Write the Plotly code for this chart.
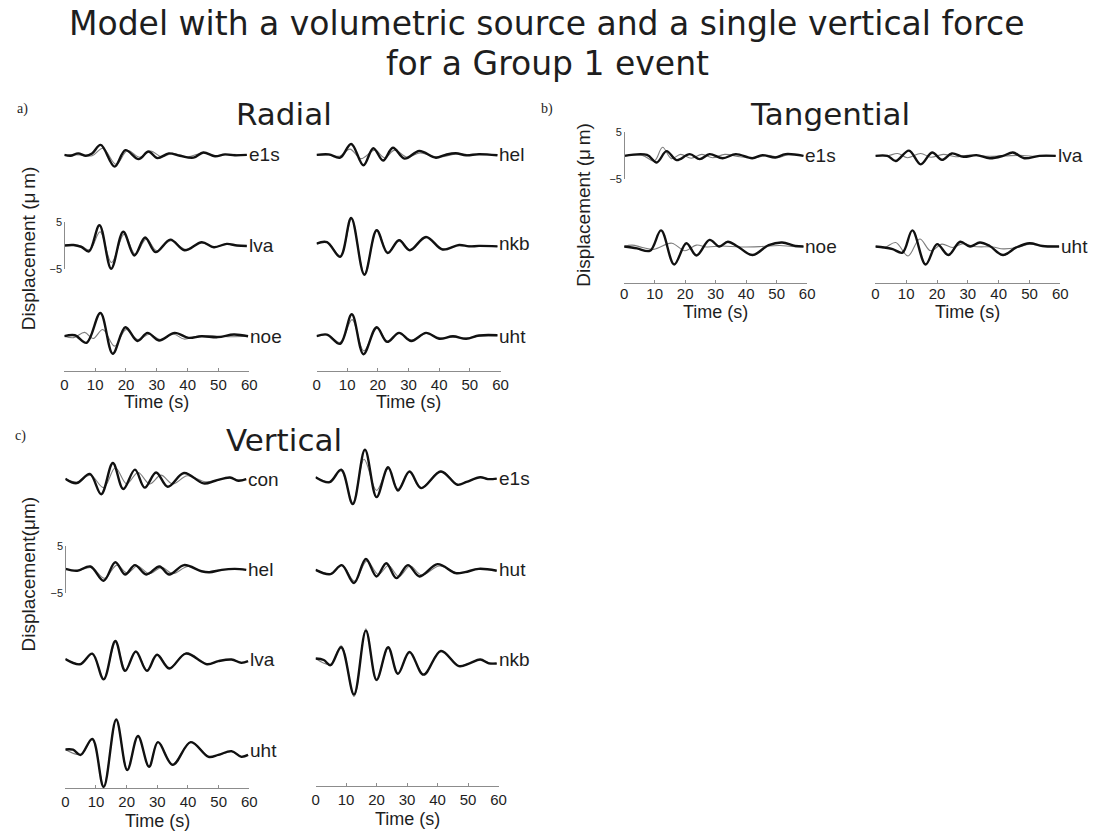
import plotly.graph_objects as go

# ---------------------------------------------------------------------------
# Waveforms: (time in s, displacement in micrometres) at the turning points of
# each record.  "obs" = observed record (thick black), "syn" = model (thin grey)
# ---------------------------------------------------------------------------

# Radial component
radial_e1s_obs = [(0, 0), (2, -0.2), (4.5, 0.3), (7, -0.2), (9, 0.3), (11.8, 2.1), (16.3, -2.5),
                  (19.8, 1.0), (24.1, -0.9), (27.3, 0.7), (30.2, -0.7), (33.9, 0.3), (37.5, -0.2),
                  (41.9, -0.6), (45.1, 0.5), (48.9, -0.3), (52.1, 0.1), (55.3, -0.1), (59.2, 0)]
radial_e1s_syn = [(0, 0), (5, 0), (9, -0.2), (12.5, 1.4), (16.8, -2.0), (20.5, 0.9), (24.5, -0.5),
                  (28, 0.8), (31.5, -0.4), (35, 0.3), (40, -0.4), (45, 0.4), (49, -0.2), (53, 0.1),
                  (59.2, 0)]
radial_lva_obs = [(0, 0), (3, 0.1), (5.5, -0.3), (8, -1.25), (11.4, 4.3), (15.2, -4.9), (19.1, 2.9),
                  (22.7, -2.1), (26.2, 1.7), (29.6, -1.4), (34.4, 1.25), (39, -1.0), (44.6, 0.7),
                  (48.5, -0.35), (52.7, 0.35), (56, 0), (59.2, -0.1)]
radial_lva_syn = [(0, 0), (5, 0), (8.3, -0.9), (11.6, 2.9), (15.3, -3.6), (19.4, 2.4), (23, -1.8),
                  (26.6, 1.4), (30, -1.1), (34.6, 1.0), (39.3, -0.8), (44.6, 0.6), (48.5, -0.3),
                  (52.7, 0.3), (56, 0), (59.2, -0.1)]
radial_noe_obs = [(0, 0), (3.4, 0.2), (7.2, -1.4), (11.7, 4.9), (15.7, -3.7), (19.8, 1.9), (23.7, -1.0),
                  (27, 0.7), (30.7, -0.9), (35.8, 0.7), (40.3, -0.35), (44.5, 0), (49.8, -0.2),
                  (55, 0.35), (59.6, 0)]
radial_noe_syn = [(0, 0), (3, -0.3), (6.6, 0.8), (9.3, -0.5), (12.5, 1.4), (16.3, -2.1), (20, 1.4),
                  (23.8, -0.7), (27.5, 0.4), (31.3, -0.7), (35.5, 0.4), (38.8, -0.6), (43, 0),
                  (48, 0.1), (53, -0.1), (59.6, 0)]
radial_hel_obs = [(0, 0), (4, 0.1), (7.7, -0.6), (11.3, 2.3), (15.3, -2.2), (18.5, 1.4), (21.7, -1.2),
                  (24.9, 1.5), (28.7, -0.8), (33.5, 0.8), (38.9, -0.6), (42, 0), (45.4, 0.35),
                  (48.8, -0.1), (53, 0.15), (59, -0.1)]
radial_hel_syn = [(0, 0), (4, 0), (7.5, -0.3), (10.9, 1.2), (14.5, -0.8), (19, 1.0), (22.2, -0.6),
                  (25.5, 1.0), (29.5, -0.5), (33.8, 0.4), (38, -0.3), (41, -0.4), (45.5, 0.2),
                  (50, 0), (59, 0)]
radial_nkb_obs = [(0, 0), (3.4, 0.3), (7.7, -2.8), (11.3, 5.4), (15.6, -6.6), (19.6, 2.8), (23.2, -2.0),
                  (26.9, 0.7), (30.4, -1.4), (35.7, 1.4), (41.1, -1.25), (46.5, -0.3), (49.7, -0.6),
                  (53, -0.5), (59, -0.6)]
radial_nkb_syn = [(0, 0), (3.4, 0.3), (7.8, -2.6), (11.4, 5.2), (15.6, -6.4), (19.7, 2.9), (23.2, -1.9),
                  (27, 0.8), (30.5, -1.3), (35.8, 1.3), (41.2, -1.2), (46.5, -0.3), (49.7, -0.5),
                  (53, -0.5), (59, -0.6)]
radial_uht_obs = [(0, 0), (3.4, 0.35), (7.7, -1.6), (11.5, 4.65), (15.3, -3.8), (19.6, 1.9), (23, -1.2),
                  (26.9, 0.7), (30.9, -1.0), (35.7, 0.7), (40, -0.55), (44.5, 0), (48.8, -0.55),
                  (53, 0.15), (59, 0.2)]
radial_uht_syn = [(0, 0), (3.4, 0.3), (7.7, -1.3), (11.6, 3.5), (15.4, -3.1), (19.7, 1.7), (23.1, -1.0),
                  (27, 0.6), (31, -0.8), (35.8, 0.6), (40, -0.3), (44.5, -0.2), (48.8, -0.4),
                  (53, 0), (59, 0.1)]

# Tangential component
tangential_e1s_obs = [(0, 0), (7.5, 0.2), (10.7, -1.4), (13.9, 1.0), (17.2, -0.9), (21.5, 0.35),
                      (24.8, -0.7), (28, 0.35), (32.3, -0.5), (36.6, 0.35), (42, -0.5), (45.3, 0.15),
                      (49.6, -0.35), (52.9, 0.35), (58.8, 0)]
tangential_e1s_syn = [(0, 0), (6, 0.1), (9.9, -1.1), (12.6, 1.8), (15.5, -0.6), (18.5, 0.3), (22, -0.5),
                      (25.5, 0.3), (29, -0.4), (33, 0.3), (38, -0.2), (43, -0.4), (47, 0.1),
                      (51, -0.3), (54, 0.3), (58.8, 0)]
tangential_noe_obs = [(0, 0), (4.2, -0.4), (8.5, -0.9), (12.1, 3.4), (16.4, -3.8), (20.4, 0.7),
                      (23.7, -1.9), (28, 1.4), (31.2, 0), (34, 1.0), (37.2, 0), (42.1, -1.8),
                      (47.4, 0.3), (51.8, 0.85), (56.1, 0.1), (58.8, 0)]
tangential_noe_syn = [(0, 0), (2.6, 0.3), (6, -0.2), (9.7, -0.6), (15.6, 0.7), (19.9, -0.9),
                      (23.7, 0.3), (27, -0.1), (32, 0.1), (38, -0.1), (45, 0), (51, 0.2), (55, 0),
                      (58.8, 0)]
tangential_lva_obs = [(0, 0), (3.9, 0), (6.6, -1.1), (10.9, 1.1), (14.7, -1.8), (18.4, 0.7),
                      (21.6, -0.85), (24.8, 0.5), (28.6, -0.2), (32.8, 0.15), (37.1, -0.5), (41.4, 0),
                      (44.6, 0.7), (48.3, -0.5), (53.2, 0), (58.5, 0)]
tangential_lva_syn = [(0, 0), (4, 0), (7.2, 0.5), (10.4, -0.4), (14.7, 0.5), (18, -0.3), (22, 0.3),
                      (26, -0.2), (30, 0.1), (36, -0.1), (42, 0), (47, 0.1), (51, -0.1), (58.5, 0)]
tangential_uht_obs = [(0, 0), (2.9, -0.2), (5.6, -0.55), (8.8, -1.3), (12, 3.4), (16.3, -3.8),
                      (20, 0.5), (23.7, -1.8), (27.5, 1.0), (30.7, 0), (33.9, 0.85), (37.1, 0.1),
                      (41.4, -1.8), (45.7, -0.2), (50, 0.7), (54.2, 0.1), (59.6, 0)]
tangential_uht_syn = [(0, 0), (3, -0.2), (6.6, 0.85), (10.6, -2.0), (14.4, 1.6), (17.9, -0.9),
                      (21.6, 0.5), (25, -0.2), (28.5, 0.6), (32, 0), (38, -0.1), (41.5, -0.5),
                      (46, -0.2), (50, 0.5), (54, 0.2), (59.6, 0)]

# Vertical component
vertical_con_obs = [(0, 0.1), (3.7, -0.85), (8, 1.1), (11.7, -3.2), (15.5, 3.4), (18.9, -2.1),
                    (22.7, 2.0), (25.9, -1.8), (29.6, 1.4), (33.4, -1.6), (38.7, 1.3), (45.1, -0.9),
                    (48.9, -0.35), (53.7, 0.35), (56.4, -0.35), (59, 0)]
vertical_con_syn = [(0, 0.1), (3.9, -0.6), (8.2, 0.85), (12.5, -1.8), (16.3, 2.4), (20, -1.0),
                    (23.7, 1.4), (27.5, -1.0), (31.2, 0.85), (35, -1.0), (39.8, 0.7), (45.6, -0.55),
                    (49, -0.3), (53.7, 0.3), (56.4, -0.2), (59, 0)]
vertical_hel_obs = [(0, 0.2), (3.9, -0.2), (8.2, 0.7), (12.5, -2.3), (16.3, 1.6), (19.5, -1.0),
                    (22.7, 1.0), (26.4, -1.0), (30.7, 0.7), (33.9, -1.0), (38.7, 1.0), (44.4, -0.3),
                    (47, -0.5), (51, 0), (55.3, 0.2), (59, 0)]
vertical_hel_syn = [(0, 0.2), (4, -0.2), (8.5, 0.5), (12.8, -1.8), (16.8, 1.0), (20.2, -0.7),
                    (23.5, 0.8), (27.3, -0.8), (31.5, 0.5), (35, -0.8), (40, 0.7), (45, -0.4),
                    (51, 0), (55.3, 0.2), (59, 0)]
vertical_lva_obs = [(0, 0.1), (4.8, -1.0), (8.8, 1.25), (12.5, -4.2), (16.3, 3.9), (19.5, -2.4),
                    (23, 1.7), (26.6, -2.4), (29.9, 1.0), (33.9, -1.9), (39.3, 1.25), (46.2, -1.0),
                    (49.9, -0.35), (54.2, 0), (57.4, -0.7), (59.6, -0.35)]
vertical_lva_syn = [(0, 0.1), (4.8, -0.9), (8.8, 1.1), (12.5, -4.0), (16.4, 3.6), (19.6, -2.2),
                    (23, 1.6), (26.7, -2.2), (30, 1.1), (34, -1.7), (39.5, 1.4), (46.4, -0.9),
                    (50, -0.35), (54.2, 0), (57.4, -0.6), (59.6, -0.35)]
vertical_uht_obs = [(0, 0.15), (2.5, 0.1), (5, -1.0), (8.8, 2.4), (12.5, -7.8), (16.6, 6.5),
                    (20.2, -4.2), (23.7, 3.0), (27.3, -3.5), (30.2, 1.7), (35, -3.1), (40.9, 1.7),
                    (46.7, -1.4), (49.9, -1.0), (54.2, -0.2), (57.4, -1.4), (59.6, -1.0)]
vertical_uht_syn = [(0, 0.15), (5, -0.9), (8.8, 2.2), (12.5, -7.5), (16.6, 6.3), (20.2, -4.0),
                    (23.7, 2.9), (27.3, -3.4), (30.2, 1.8), (35, -3.0), (40.9, 1.8), (46.7, -1.3),
                    (50, -1.0), (54.2, -0.3), (57.4, -1.3), (59.6, -1.0)]
vertical_e1s_obs = [(0, 0.2), (4.6, -0.85), (8.4, 1.8), (12.2, -5.5), (16.2, 6.0), (20, -4.0),
                    (23.8, 2.3), (27, -2.6), (30.8, 1.4), (34.6, -2.1), (41.1, 1.4), (46.5, -1.4),
                    (49.5, -0.8), (54, 0.2), (56.5, -0.2), (59.4, -0.1)]
vertical_e1s_syn = [(0, 0.2), (4.6, -0.7), (8.4, 1.5), (12.2, -5.2), (15.9, 4.0), (20, -2.6),
                    (23.8, 2.0), (27, -2.2), (30.8, 1.3), (34.6, -2.0), (41.1, 1.5), (46.5, -1.3),
                    (49.5, -0.8), (54, 0.2), (56.5, -0.2), (59.4, -0.1)]
vertical_hut_obs = [(0, 0), (4.9, -0.9), (8.6, 1.0), (12.6, -2.8), (16.5, 2.3), (20, -1.4),
                    (23.2, 1.4), (26.5, -1.75), (30.3, 1.0), (34.1, -1.4), (40, 1.2), (45.9, -0.7),
                    (49, -0.5), (53.5, 0.2), (59.4, -0.2)]
vertical_hut_syn = [(0, 0), (5, -0.8), (8.8, 0.9), (12.8, -2.4), (16.8, 1.9), (20.6, -1.0),
                    (23.9, 0.9), (27.3, -1.4), (31, 0.8), (34.8, -1.1), (40.6, 0.8), (46.3, -0.6),
                    (49, -0.5), (53.5, 0.2), (59.4, -0.2)]
vertical_nkb_obs = [(0, 0.2), (2.7, -0.1), (4.9, -1.2), (8.4, 2.6), (12.6, -7.4), (16.5, 6.1),
                    (20, -4.3), (23.8, 2.6), (27, -3.0), (30.8, 1.6), (35.4, -3.2), (41.1, 1.8),
                    (47, -1.4), (50.5, -0.8), (54, 0), (56.8, -0.8), (59.4, -0.85)]
vertical_nkb_syn = [(0, 0.2), (4.9, -1.0), (8.4, 2.9), (12.6, -7.8), (16.5, 6.5), (20, -4.5),
                    (23.8, 2.4), (27, -3.1), (30.8, 1.5), (35.4, -3.1), (41.1, 1.8), (47, -1.3),
                    (50.5, -0.8), (54, 0), (56.8, -0.7), (59.4, -0.85)]

time_ticks = [0, 10, 20, 30, 40, 50, 60]
scale_ticks = [-5, 5]
scale_labels = ["\u22125", "5"]

# ---------------------------------------------------------------------------
# Page geometry (pixels on a 1099 x 839 page)
# ---------------------------------------------------------------------------
W, H = 1099, 839
PX_PER_UM = 4.8          # vertical scale of every trace strip
STRIP_HALF = 45          # half height of one trace strip, px

# column: (left px at t=0, right px at t=60, y of time axis line, y of "Time (s)",
#          shift of the tick labels towards the axis line)
columns = {
    "rad_l": (61, 248, 370, 402, 0),
    "rad_r": (316, 502, 370, 402, 0),
    "tan_l": (627, 812, 281, 310, -3),
    "tan_r": (881, 1068, 281, 310, -3),
    "ver_l": (62, 248, 793, 827, 0),
    "ver_r": (315, 500, 791, 825, 0),
}

# (column, station, baseline y px, observed, synthetic, draw amplitude bar)
rows = [
    ("rad_l", "e1s", 151, radial_e1s_obs, radial_e1s_syn, False),
    ("rad_l", "lva", 243, radial_lva_obs, radial_lva_syn, True),
    ("rad_l", "noe", 335, radial_noe_obs, radial_noe_syn, False),
    ("rad_r", "hel", 151, radial_hel_obs, radial_hel_syn, False),
    ("rad_r", "nkb", 241, radial_nkb_obs, radial_nkb_syn, False),
    ("rad_r", "uht", 335, radial_uht_obs, radial_uht_syn, False),
    ("tan_l", "e1s", 152, tangential_e1s_obs, tangential_e1s_syn, True),
    ("tan_l", "noe", 244, tangential_noe_obs, tangential_noe_syn, False),
    ("tan_r", "lva", 152, tangential_lva_obs, tangential_lva_syn, False),
    ("tan_r", "uht", 244, tangential_uht_obs, tangential_uht_syn, False),
    ("ver_l", "con", 480, vertical_con_obs, vertical_con_syn, False),
    ("ver_l", "hel", 572, vertical_hel_obs, vertical_hel_syn, True),
    ("ver_l", "lva", 663, vertical_lva_obs, vertical_lva_syn, False),
    ("ver_l", "uht", 755, vertical_uht_obs, vertical_uht_syn, False),
    ("ver_r", "e1s", 479, vertical_e1s_obs, vertical_e1s_syn, False),
    ("ver_r", "hut", 572, vertical_hut_obs, vertical_hut_syn, False),
    ("ver_r", "nkb", 663, vertical_nkb_obs, vertical_nkb_syn, False),
]

SANS = "Liberation Sans, Arial, sans-serif"
HEAD = "DejaVu Sans, Lucida Grande, sans-serif"
SERIF = "Liberation Serif, serif"
AXIS_GREY = "#8c8c8c"
INK = "#1e1e1e"


def px(x):
    return x / W


def py(y):
    return 1 - y / H


def axis_key(kind, n):
    return kind + "axis" + ("" if n == 1 else str(n))


def axis_ref(kind, n):
    return kind + ("" if n == 1 else str(n))


def paper_text(text, x, y, size, family, angle=0):
    return dict(text=text, x=px(x), y=py(y), xref="paper", yref="paper", showarrow=False,
                xanchor="center", yanchor="middle", textangle=angle,
                font=dict(family=family, size=size, color=INK))


fig = go.Figure()
layout = {}
annotations = []

# one shared time axis per column
col_index = {}
for i, (key, (x0, x1, ay, ty, lab_shift)) in enumerate(columns.items(), start=1):
    col_index[key] = i
    layout[axis_key("x", i)] = dict(
        domain=[px(x0), px(x1)], range=[0, 60], anchor="free", position=py(ay),
        showline=True, linecolor=AXIS_GREY, linewidth=1,
        ticks="inside", ticklen=3, tickcolor=AXIS_GREY, tickwidth=1,
        tickvals=time_ticks, tickfont=dict(family=SANS, size=15, color=INK),
        ticklabelstandoff=lab_shift,
        showgrid=False, zeroline=False, fixedrange=True,
    )
    annotations.append(paper_text("Time (s)", (x0 + x1) / 2, ty, 18, SANS))

yn = 0
for col, station, base, obs, syn, bar in rows:
    xi = col_index[col]
    x0 = columns[col][0]
    yn += 1
    span = STRIP_HALF / PX_PER_UM
    layout[axis_key("y", yn)] = dict(
        domain=[py(base + STRIP_HALF), py(base - STRIP_HALF)], range=[-span, span],
        anchor=axis_ref("x", xi), visible=False, fixedrange=True,
    )
    xr, yr = axis_ref("x", xi), axis_ref("y", yn)
    fig.add_trace(go.Scatter(
        x=[p[0] for p in syn], y=[p[1] for p in syn], xaxis=xr, yaxis=yr, mode="lines",
        line=dict(color="#7d7d7d", width=1.1, shape="spline", smoothing=1.0),
        hoverinfo="skip", showlegend=False))
    fig.add_trace(go.Scatter(
        x=[p[0] for p in obs], y=[p[1] for p in obs], xaxis=xr, yaxis=yr, mode="lines",
        line=dict(color="#111111", width=2.4, shape="spline", smoothing=1.0),
        hoverinfo="skip", showlegend=False))
    annotations.append(dict(
        text=station, xref=xr, yref=yr, x=obs[-1][0], y=0, xanchor="left", yanchor="middle",
        showarrow=False, font=dict(family=SANS, size=19, color=INK)))

    if bar:
        # +/-5 micrometre amplitude bar at t = 0
        yn += 1
        half = 5 * PX_PER_UM
        layout[axis_key("y", yn)] = dict(
            domain=[py(base + half), py(base - half)], range=[-5, 5],
            anchor="free", position=px(x0), side="left",
            showline=True, linecolor=AXIS_GREY, linewidth=1,
            ticks="inside", ticklen=3, tickcolor=AXIS_GREY,
            tickvals=scale_ticks, ticktext=scale_labels,
            tickfont=dict(family=SANS, size=11, color=INK),
            showgrid=False, zeroline=False, fixedrange=True,
        )
        fig.add_trace(go.Scatter(x=[0], y=[0], xaxis=xr, yaxis=axis_ref("y", yn), mode="lines",
                                 hoverinfo="skip", showlegend=False))

# headings and panel labels
annotations += [
    paper_text("Model with a volumetric source and a single vertical force", 549, 18, 33, HEAD),
    paper_text("for a Group 1 event", 549, 58, 33, HEAD),
    paper_text("Radial", 283, 110, 31, HEAD),
    paper_text("Tangential", 835, 110, 31, HEAD),
    paper_text("Vertical", 283, 440, 31, HEAD),
    paper_text("a)", 19, 104, 14, SERIF),
    paper_text("b)", 549, 104, 14, SERIF),
    paper_text("c)", 17, 436, 14, SERIF),
    paper_text("Displacement (\u03bc\u2009m)", 25, 246, 19, SANS, -90),
    paper_text("Displacement (\u03bc\u2009m)", 585, 202, 19, SANS, -90),
    paper_text("Displacement(\u03bcm)", 25, 576, 19, SANS, -90),
]

fig.update_layout(
    width=W, height=H, margin=dict(l=0, r=0, t=0, b=0),
    paper_bgcolor="white", plot_bgcolor="rgba(0,0,0,0)",
    showlegend=False, annotations=annotations, **layout,
)

fig.write_html("out.html", config={"displayModeBar": False})
